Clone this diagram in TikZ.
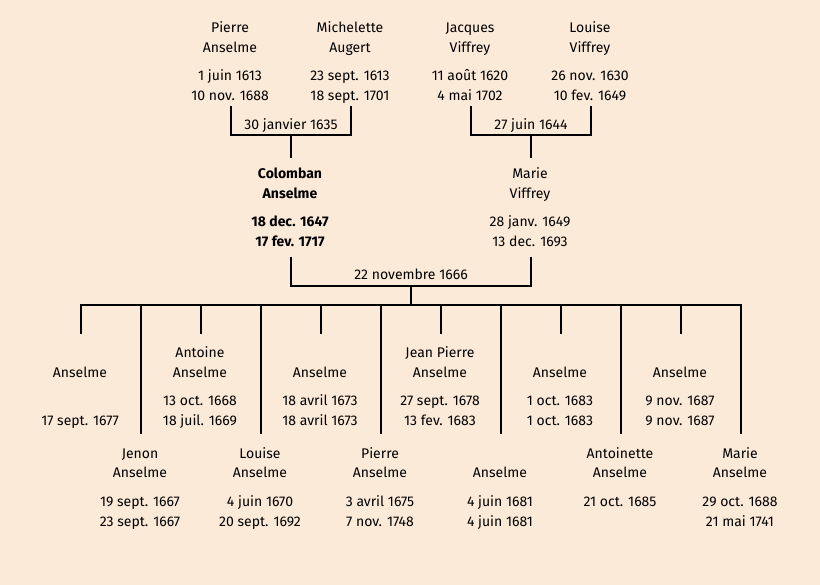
\documentclass[tikz,border=0pt]{standalone}
\usepackage{fontspec}
\setmainfont{Fira Sans}
\definecolor{bg}{RGB}{252,234,216}
\tikzset{
  txt/.style={anchor=base, inner sep=0pt, font=\fontsize{14}{16}\selectfont},
  btxt/.style={txt, font=\fontsize{14}{16}\selectfont\bfseries},
  link/.style={line width=1.8pt, line cap=rect},
  wed/.style={txt}
}
\newcommand\pers[8][txt]{%
  \node[#1] (#2-a) at (#3,#4+6) {#5};
  \node[#1] (#2-b) at (#3,#4+26) {#6};
  \node[#1] (#2-c) at (#3,#4+54) {#7};
  \node[#1] (#2-d) at (#3,#4+74) {#8};
}
\begin{document}
\begin{tikzpicture}[x=1pt,y=-1pt]
\fill[bg] (0,0) rectangle (820,585);
\useasboundingbox (0,0) rectangle (820,585);
% grandparents
\pers{pa}{230}{27}{Pierre}{Anselme}{1 juin 1613}{10 nov. 1688}
\pers{ma}{350}{27}{Michelette}{Augert}{23 sept. 1613}{18 sept. 1701}
\pers{jv}{470}{27}{Jacques}{Viffrey}{11 août 1620}{4 mai 1702}
\pers{lv}{590}{27}{Louise}{Viffrey}{26 nov. 1630}{10 fev. 1649}
% parents
\pers[btxt]{ca}{290}{173}{Colomban}{Anselme}{18 dec. 1647}{17 fev. 1717}
\pers{mv}{530}{173}{Marie}{Viffrey}{28 janv. 1649}{13 dec. 1693}
% children, upper row
\pers{c1}{80}{352}{}{Anselme}{}{17 sept. 1677}
\pers{c3}{200}{352}{Antoine}{Anselme}{13 oct. 1668}{18 juil. 1669}
\pers{c5}{320}{352}{}{Anselme}{18 avril 1673}{18 avril 1673}
\pers{c7}{440}{352}{Jean Pierre}{Anselme}{27 sept. 1678}{13 fev. 1683}
\pers{c9}{560}{352}{}{Anselme}{1 oct. 1683}{1 oct. 1683}
\pers{c11}{680}{352}{}{Anselme}{9 nov. 1687}{9 nov. 1687}
% children, lower row
\pers{c2}{140}{452}{Jenon}{Anselme}{19 sept. 1667}{23 sept. 1667}
\pers{c4}{260}{452}{Louise}{Anselme}{4 juin 1670}{20 sept. 1692}
\pers{c6}{380}{452}{Pierre}{Anselme}{3 avril 1675}{7 nov. 1748}
\pers{c8}{500}{452}{}{Anselme}{4 juin 1681}{4 juin 1681}
\pers{c10}{620}{452}{Antoinette}{Anselme}{21 oct. 1685}{}
\pers{c12}{740}{452}{Marie}{Anselme}{29 oct. 1688}{21 mai 1741}
% marriage 1
\coordinate (pa-s) at (231,107);
\coordinate (ma-s) at (351,107);
\coordinate (m1) at (291,135);
\coordinate (ca-n) at (291,157);
\draw[link] (pa-s) |- (m1) -| (ma-s);
\draw[link] (m1) -- (ca-n);
\node[wed] (w1) at (291,130) {30 janvier 1635};
% marriage 2
\coordinate (jv-s) at (471,107);
\coordinate (lv-s) at (591,107);
\coordinate (m2) at (531,135);
\coordinate (mv-n) at (531,157);
\draw[link] (jv-s) |- (m2) -| (lv-s);
\draw[link] (m2) -- (mv-n);
\node[wed] (w2) at (531,130) {27 juin 1644};
% marriage 3
\coordinate (ca-s) at (291,258);
\coordinate (mv-s) at (531,258);
\coordinate (m3) at (411,286);
\coordinate (kids) at (411,305);
\draw[link] (ca-s) |- (m3) -| (mv-s);
\draw[link] (m3) -- (kids);
\node[wed] (w3) at (411,280) {22 novembre 1666};
% children bar
\coordinate (bl) at (81,305);
\coordinate (br) at (741,305);
\draw[link] (bl) -- (br);
\foreach \x in {81,201,321,441,561,681}{
  \draw[link] (\x,305) -- (\x,333);
}
\foreach \x in {141,261,381,501,621,741}{
  \draw[link] (\x,305) -- (\x,433);
}
\end{tikzpicture}
\end{document}
